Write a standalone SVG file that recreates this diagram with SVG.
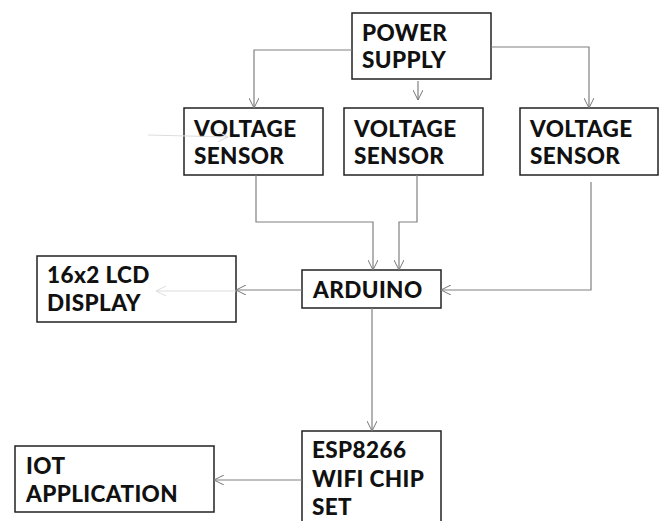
<svg xmlns="http://www.w3.org/2000/svg" width="665" height="521" viewBox="0 0 665 521">
<defs>
<marker id="arr" viewBox="0 0 10 10" refX="10" refY="5" markerWidth="10" markerHeight="10" markerUnits="userSpaceOnUse" orient="auto">
<path d="M0,0 L10,5 L0,10" fill="none" stroke="#777" stroke-width="1"/>
</marker>
<marker id="arrf" viewBox="0 0 10 10" refX="10" refY="5" markerWidth="10" markerHeight="10" markerUnits="userSpaceOnUse" orient="auto">
<path d="M0,0 L10,5 L0,10" fill="none" stroke="#ddd" stroke-width="1"/>
</marker>
</defs>
<style>
.box{fill:#fff;stroke:#222;stroke-width:1.5}
.t{font-family:Lato,"Open Sans","Liberation Sans",sans-serif;font-weight:900;font-size:22.5px;letter-spacing:0.4px;fill:#111}
.c{fill:none;stroke:#808080;stroke-width:1.2;marker-end:url(#arr)}
.f{fill:none;stroke:#ddd;stroke-width:1.2;marker-end:url(#arrf)}
</style>
<rect width="665" height="521" fill="#fff"/>
<g id="power_supply"><rect class="box" x="352" y="13" width="139" height="66"/><text class="t" x="362" y="41">POWER</text><text class="t" x="362" y="68">SUPPLY</text></g>
<g id="sensor1"><rect class="box" x="184" y="108" width="139" height="67"/><text class="t" x="194" y="137">VOLTAGE</text><text class="t" x="194" y="164">SENSOR</text></g>
<g id="sensor2"><rect class="box" x="344" y="108" width="139" height="67"/><text class="t" x="354" y="137">VOLTAGE</text><text class="t" x="354" y="164">SENSOR</text></g>
<g id="sensor3"><rect class="box" x="520" y="108" width="138" height="67"/><text class="t" x="530" y="137">VOLTAGE</text><text class="t" x="530" y="164">SENSOR</text></g>
<g id="arduino"><rect class="box" x="302" y="270" width="139" height="38"/><text class="t" x="313" y="298">ARDUINO</text></g>
<g id="lcd"><rect class="box" x="37" y="256" width="199" height="66"/><text class="t" x="47" y="283">16x2 LCD</text><text class="t" x="47" y="311">DISPLAY</text></g>
<g id="esp8266"><rect class="box" x="302" y="431" width="139" height="100"/><text class="t" x="312" y="458">ESP8266</text><text class="t" x="312" y="487">WIFI CHIP</text><text class="t" x="312" y="515">SET</text></g>
<g id="iot"><rect class="box" x="15" y="446" width="199" height="66"/><text class="t" x="26" y="474">IOT</text><text class="t" x="26" y="502">APPLICATION</text></g>
<g id="connectors">
<path class="c" d="M352,50 H254 V108"/>
<path class="c" d="M418,81 V100"/>
<path class="c" d="M491,47 H589 V108"/>
<path class="f" d="M148,135 L228,137"/>
<path class="c" d="M256,175 V222 H373 V270"/>
<path class="c" d="M417,175 V222 H399 V270"/>
<path class="c" d="M591,182 V290 H441"/>
<path class="c" d="M302,290 H236"/>
<path class="f" d="M236,291 H156"/>
<path class="c" d="M372,308 V431"/>
<path class="c" d="M302,480 H214"/>
</g>
</svg>
